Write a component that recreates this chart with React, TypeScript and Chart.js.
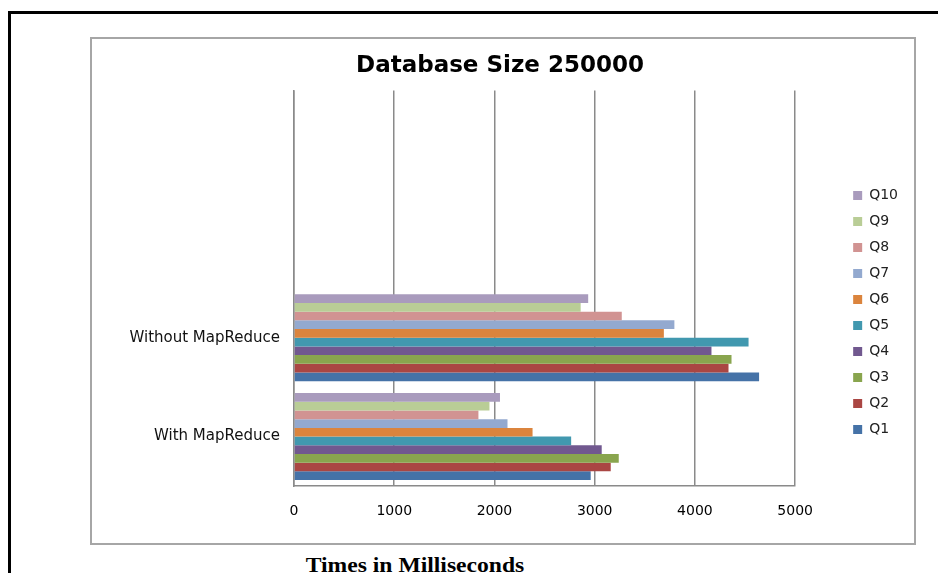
import React, { useEffect, useRef } from 'react';
import { Chart, registerables } from 'chart.js';

Chart.register(...registerables);

const chartTitle = 'Database Size 250000';
const axisTitle = 'Times in Milliseconds';
// two leading empty category slots (as in the source chart), then the real categories (top to bottom)
const categories = ['', '', 'Without MapReduce', 'With MapReduce'];
const seriesNames = ['Q1', 'Q2', 'Q3', 'Q4', 'Q5', 'Q6', 'Q7', 'Q8', 'Q9', 'Q10'];
const withoutMapReduce = [4640, 4335, 4365, 4165, 4535, 3690, 3795, 3270, 2860, 2935];
const withMapReduce = [2960, 3160, 3240, 3070, 2765, 2380, 2130, 1840, 1950, 2055];
const seriesColors = ['#4572A7', '#AA4643', '#89A54E', '#71588F', '#4198AF', '#DB843D', '#93A9CF', '#D19392', '#B9CD96', '#A99BBD'];
const xMin = 0;
const xMax = 5000;
const xStep = 1000;

export default function App() {
  const canvasRef = useRef<HTMLCanvasElement | null>(null);

  useEffect(() => {
    const canvas = canvasRef.current;
    if (!canvas) return;
    const datasets = seriesNames
      .map((name, i) => ({
        label: name,
        data: categories.map((c) => (c === 'Without MapReduce' ? withoutMapReduce[i] : c === 'With MapReduce' ? withMapReduce[i] : null)),
        backgroundColor: seriesColors[i],
        borderWidth: 0,
        xAxisID: 'x',
        yAxisID: 'y',
        categoryPercentage: 0.88,
        barPercentage: 1.0,
      }))
      .reverse();

    const chart = new Chart(canvas, {
      type: 'bar',
      data: { labels: categories, datasets },
      options: {
        indexAxis: 'y',
        responsive: false,
        animation: false,
        layout: { padding: { left: 0, right: 6, top: 0, bottom: 25 } },
        plugins: {
          title: {
            display: true,
            text: chartTitle,
            color: '#000',
            font: { family: 'DejaVu Sans', size: 23, weight: 'bold' },
            padding: { top: 13, bottom: 11 },
          },
          legend: {
            display: true,
            position: 'right',
            align: 'center',
            title: { display: true, text: '', font: { size: 10, lineHeight: 1 }, padding: { top: 58, bottom: 0 } },
            labels: {
              boxWidth: 9,
              boxHeight: 9,
              padding: 12,
              color: '#222',
              font: { family: 'DejaVu Sans', size: 14 },
            },
          },
          tooltip: { enabled: false },
        },
        scales: {
          x: {
            type: 'linear',
            position: 'bottom',
            min: xMin,
            max: xMax,
            ticks: {
              stepSize: xStep,
              color: '#000',
              padding: 17,
              font: { family: 'DejaVu Sans', size: 14 },
              callback: (v: any) => String(v),
            },
            grid: { display: true, color: '#8a8a8a', lineWidth: 1.5, drawTicks: false },
            border: { display: true, color: '#8a8a8a', width: 1.5 },
            afterFit: (s: any) => { s.height = 32; },
          },
          y: {
            type: 'category',
            position: 'left',
            grid: { display: false, drawTicks: false },
            border: { display: true, color: '#8a8a8a', width: 1.5 },
            ticks: {
              color: '#111',
              padding: 14,
              font: { family: 'DejaVu Sans', size: 15 },
            },
            afterFit: (s: any) => { s.width = 202; },
          },
          yGap: {
            type: 'category',
            position: 'right',
            display: true,
            grid: { display: false, drawTicks: false },
            border: { display: false },
            ticks: { display: false },
            afterFit: (s: any) => { s.width = 46; },
          },
        },
      } as any,
    });
    return () => chart.destroy();
  }, []);

  return (
    <div style={{ position: 'absolute', left: 0, top: 0, width: 938, height: 573, background: '#fff', overflow: 'hidden' }}>
      <div style={{ position: 'absolute', left: 8, top: 11, width: 940, height: 580, borderTop: '3px solid #000', borderLeft: '3px solid #000' }} />
      <div style={{ position: 'absolute', left: 90, top: 37, width: 822, height: 504, border: '2px solid #a6a6a6' }}>
        <canvas ref={canvasRef} width={822} height={504} style={{ display: 'block', width: 822, height: 504 }} />
      </div>
      <div
        style={{
          position: 'absolute',
          left: 215,
          width: 400,
          top: 553,
          textAlign: 'center',
          fontFamily: '"Liberation Serif", "Times New Roman", serif',
          fontWeight: 'bold',
          fontSize: 20,
          lineHeight: '24px',
          color: '#000',
          transform: 'scaleX(1.18)',
          transformOrigin: 'center',
        }}
      >
        {axisTitle}
      </div>
    </div>
  );
}
